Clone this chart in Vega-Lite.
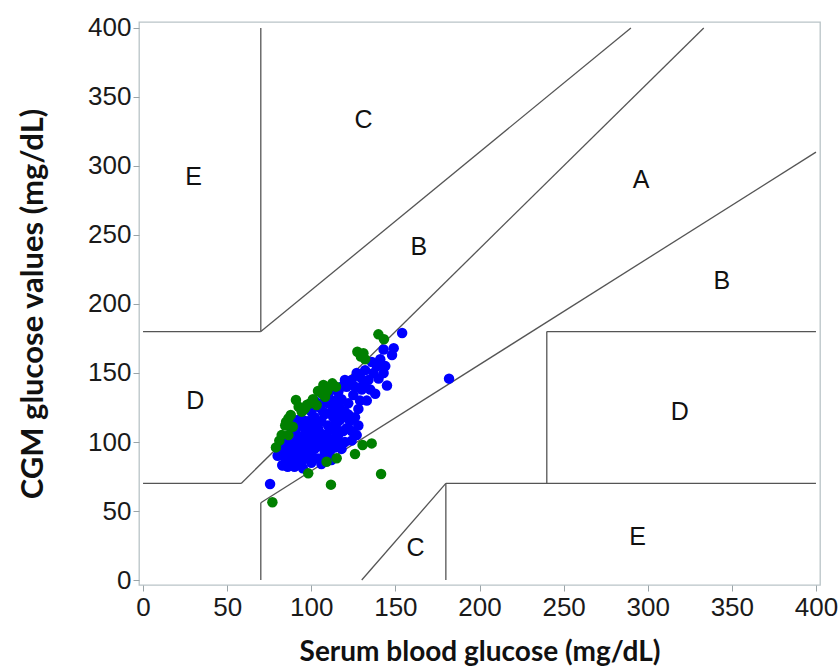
{
  "$schema": "https://vega.github.io/schema/vega-lite/v6.json",
  "width": 681,
  "height": 563,
  "autosize": "none",
  "padding": {"left": 139, "top": 22, "right": 19, "bottom": 81},
  "background": "white",
  "config": {
    "view": {"stroke": "#b9c3c7", "strokeWidth": 1.3},
    "axis": {
      "grid": false,
      "domain": false,
      "tickColor": "#9aa4a8",
      "tickSize": 6,
      "labelFont": "Liberation Sans",
      "labelFontSize": 26,
      "labelColor": "#1a1a1a",
      "titleFont": "Lato",
      "titleFontWeight": "bold",
      "titleColor": "#111111"
    }
  },
  "datasets": {
    "segs": [
      {"x": 0, "y": 70, "x2": 58.33, "y2": 70},
      {"x": 58.33, "y": 70, "x2": 333.3, "y2": 400},
      {"x": 70, "y": 56, "x2": 400, "y2": 310},
      {"x": 70, "y": 0, "x2": 70, "y2": 56},
      {"x": 70, "y": 180, "x2": 70, "y2": 400},
      {"x": 0, "y": 180, "x2": 70, "y2": 180},
      {"x": 70, "y": 180, "x2": 290, "y2": 400},
      {"x": 130, "y": 0, "x2": 180, "y2": 70},
      {"x": 180, "y": 0, "x2": 180, "y2": 70},
      {"x": 180, "y": 70, "x2": 400, "y2": 70},
      {"x": 240, "y": 70, "x2": 240, "y2": 180},
      {"x": 240, "y": 180, "x2": 400, "y2": 180}
    ],
    "labels": [
      {"x": 30, "y": 292, "t": "E"},
      {"x": 131, "y": 333, "t": "C"},
      {"x": 164, "y": 241, "t": "B"},
      {"x": 296, "y": 290, "t": "A"},
      {"x": 344, "y": 217, "t": "B"},
      {"x": 31, "y": 130, "t": "D"},
      {"x": 319, "y": 122, "t": "D"},
      {"x": 162, "y": 23, "t": "C"},
      {"x": 294, "y": 31, "t": "E"}
    ],
    "pts": [
      {"x": 154, "y": 179, "g": "blue"}, {"x": 143, "y": 167, "g": "blue"}, {"x": 149, "y": 168, "g": "blue"}, {"x": 148, "y": 163, "g": "blue"},
      {"x": 136, "y": 158, "g": "blue"}, {"x": 143, "y": 150, "g": "blue"}, {"x": 145, "y": 141, "g": "blue"}, {"x": 138, "y": 135, "g": "blue"},
      {"x": 132, "y": 152, "g": "blue"}, {"x": 129, "y": 147, "g": "blue"}, {"x": 134, "y": 145, "g": "blue"}, {"x": 126, "y": 140, "g": "blue"},
      {"x": 130, "y": 138, "g": "blue"}, {"x": 140, "y": 146, "g": "blue"}, {"x": 137, "y": 150, "g": "blue"}, {"x": 125, "y": 134, "g": "blue"},
      {"x": 133, "y": 130, "g": "blue"}, {"x": 128, "y": 124, "g": "blue"}, {"x": 128, "y": 112, "g": "blue"}, {"x": 124, "y": 101, "g": "blue"},
      {"x": 122, "y": 128, "g": "blue"}, {"x": 120, "y": 122, "g": "blue"}, {"x": 118, "y": 131, "g": "blue"}, {"x": 121, "y": 140, "g": "blue"},
      {"x": 116, "y": 136, "g": "blue"}, {"x": 119, "y": 118, "g": "blue"}, {"x": 123, "y": 115, "g": "blue"}, {"x": 117, "y": 125, "g": "blue"},
      {"x": 114, "y": 130, "g": "blue"}, {"x": 112, "y": 122, "g": "blue"}, {"x": 115, "y": 113, "g": "blue"}, {"x": 110, "y": 128, "g": "blue"},
      {"x": 113, "y": 118, "g": "blue"}, {"x": 111, "y": 110, "g": "blue"}, {"x": 108, "y": 120, "g": "blue"}, {"x": 106, "y": 115, "g": "blue"},
      {"x": 109, "y": 105, "g": "blue"}, {"x": 105, "y": 125, "g": "blue"}, {"x": 104, "y": 110, "g": "blue"}, {"x": 102, "y": 118, "g": "blue"},
      {"x": 100, "y": 122, "g": "blue"}, {"x": 103, "y": 103, "g": "blue"}, {"x": 101, "y": 112, "g": "blue"}, {"x": 99, "y": 108, "g": "blue"},
      {"x": 98, "y": 115, "g": "blue"}, {"x": 97, "y": 100, "g": "blue"}, {"x": 96, "y": 110, "g": "blue"}, {"x": 95, "y": 104, "g": "blue"},
      {"x": 94, "y": 96, "g": "blue"}, {"x": 93, "y": 112, "g": "blue"}, {"x": 92, "y": 100, "g": "blue"}, {"x": 91, "y": 106, "g": "blue"},
      {"x": 90, "y": 95, "g": "blue"}, {"x": 89, "y": 102, "g": "blue"}, {"x": 88, "y": 90, "g": "blue"}, {"x": 87, "y": 98, "g": "blue"},
      {"x": 86, "y": 93, "g": "blue"}, {"x": 85, "y": 88, "g": "blue"}, {"x": 84, "y": 95, "g": "blue"}, {"x": 83, "y": 83, "g": "blue"},
      {"x": 82, "y": 92, "g": "blue"}, {"x": 80, "y": 90, "g": "blue"}, {"x": 88, "y": 85, "g": "blue"}, {"x": 91, "y": 88, "g": "blue"},
      {"x": 94, "y": 85, "g": "blue"}, {"x": 97, "y": 90, "g": "blue"}, {"x": 100, "y": 92, "g": "blue"}, {"x": 102, "y": 95, "g": "blue"},
      {"x": 105, "y": 97, "g": "blue"}, {"x": 107, "y": 100, "g": "blue"}, {"x": 110, "y": 98, "g": "blue"}, {"x": 113, "y": 102, "g": "blue"},
      {"x": 116, "y": 105, "g": "blue"}, {"x": 119, "y": 108, "g": "blue"}, {"x": 121, "y": 110, "g": "blue"}, {"x": 96, "y": 88, "g": "blue"},
      {"x": 99, "y": 97, "g": "blue"}, {"x": 104, "y": 88, "g": "blue"}, {"x": 108, "y": 92, "g": "blue"}, {"x": 111, "y": 93, "g": "blue"},
      {"x": 114, "y": 96, "g": "blue"}, {"x": 117, "y": 100, "g": "blue"}, {"x": 93, "y": 92, "g": "blue"}, {"x": 90, "y": 82, "g": "blue"},
      {"x": 86, "y": 82, "g": "blue"}, {"x": 95, "y": 81, "g": "blue"}, {"x": 100, "y": 85, "g": "blue"}, {"x": 106, "y": 84, "g": "blue"},
      {"x": 112, "y": 87, "g": "blue"}, {"x": 118, "y": 95, "g": "blue"}, {"x": 122, "y": 120, "g": "blue"}, {"x": 126, "y": 118, "g": "blue"},
      {"x": 129, "y": 130, "g": "blue"}, {"x": 131, "y": 142, "g": "blue"}, {"x": 124, "y": 145, "g": "blue"}, {"x": 127, "y": 150, "g": "blue"},
      {"x": 120, "y": 145, "g": "blue"}, {"x": 135, "y": 138, "g": "blue"}, {"x": 75.5, "y": 69.6, "g": "blue"}, {"x": 82.8, "y": 83.3, "g": "blue"},
      {"x": 102, "y": 130, "g": "blue"}, {"x": 106, "y": 128, "g": "blue"}, {"x": 98, "y": 125, "g": "blue"}, {"x": 95, "y": 116, "g": "blue"},
      {"x": 92, "y": 116, "g": "blue"}, {"x": 89, "y": 110, "g": "blue"}, {"x": 87, "y": 105, "g": "blue"}, {"x": 110, "y": 134, "g": "blue"},
      {"x": 114, "y": 138, "g": "blue"}, {"x": 118, "y": 140, "g": "blue"}, {"x": 110, "y": 112, "g": "blue"}, {"x": 106, "y": 106, "g": "blue"},
      {"x": 103, "y": 100, "g": "blue"}, {"x": 100, "y": 100, "g": "blue"}, {"x": 97, "y": 104, "g": "blue"}, {"x": 94, "y": 100, "g": "blue"},
      {"x": 91, "y": 96, "g": "blue"}, {"x": 114, "y": 108, "g": "blue"}, {"x": 117, "y": 116, "g": "blue"}, {"x": 120, "y": 100, "g": "blue"},
      {"x": 124, "y": 108, "g": "blue"}, {"x": 127, "y": 105, "g": "blue"}, {"x": 84, "y": 100, "g": "blue"}, {"x": 81, "y": 97, "g": "blue"},
      {"x": 88, "y": 114, "g": "blue"}, {"x": 113, "y": 125, "g": "blue"}, {"x": 116, "y": 120, "g": "blue"}, {"x": 104, "y": 115, "g": "blue"},
      {"x": 107, "y": 122, "g": "blue"}, {"x": 101, "y": 105, "g": "blue"}, {"x": 98, "y": 95, "g": "blue"}, {"x": 89, "y": 92, "g": "blue"},
      {"x": 139, "y": 155, "g": "blue"}, {"x": 141, "y": 160, "g": "blue"}, {"x": 144, "y": 155, "g": "blue"}, {"x": 181.9, "y": 145.9, "g": "blue"},
      {"x": 139.9, "y": 178, "g": "green"}, {"x": 143.2, "y": 174.4, "g": "green"}, {"x": 127.4, "y": 165.4, "g": "green"}, {"x": 131, "y": 164.3, "g": "green"},
      {"x": 132, "y": 159.9, "g": "green"}, {"x": 107.2, "y": 141.3, "g": "green"}, {"x": 111.1, "y": 140.1, "g": "green"}, {"x": 114.7, "y": 140.1, "g": "green"},
      {"x": 106.2, "y": 135.3, "g": "green"}, {"x": 108.2, "y": 132.8, "g": "green"}, {"x": 90.9, "y": 130.4, "g": "green"}, {"x": 99.3, "y": 128, "g": "green"},
      {"x": 103.2, "y": 126.8, "g": "green"}, {"x": 96.3, "y": 124.4, "g": "green"}, {"x": 94.3, "y": 122, "g": "green"}, {"x": 87.8, "y": 119.6, "g": "green"},
      {"x": 86.4, "y": 117.1, "g": "green"}, {"x": 89, "y": 111.1, "g": "green"}, {"x": 82.4, "y": 105, "g": "green"}, {"x": 86.4, "y": 105, "g": "green"},
      {"x": 79, "y": 96.1, "g": "green"}, {"x": 130.5, "y": 97.8, "g": "green"}, {"x": 135.9, "y": 99, "g": "green"}, {"x": 126, "y": 91.3, "g": "green"},
      {"x": 109.1, "y": 85.7, "g": "green"}, {"x": 115.1, "y": 88.2, "g": "green"}, {"x": 98.2, "y": 77.3, "g": "green"}, {"x": 141.5, "y": 76.8, "g": "green"},
      {"x": 111.7, "y": 69.1, "g": "green"}, {"x": 76.9, "y": 56.3, "g": "green"}, {"x": 95.3, "y": 123.2, "g": "green"}, {"x": 84.5, "y": 112, "g": "green"},
      {"x": 101, "y": 131, "g": "green"}, {"x": 104, "y": 137, "g": "green"}, {"x": 109.5, "y": 137, "g": "green"}, {"x": 112.5, "y": 142.5, "g": "green"},
      {"x": 97.5, "y": 127, "g": "green"}, {"x": 92.5, "y": 125.5, "g": "green"}, {"x": 85, "y": 114.5, "g": "green"}, {"x": 81, "y": 101, "g": "green"},
      {"x": 129.5, "y": 162, "g": "green"}
    ]
  },
  "layer": [
    {
      "data": {"name": "segs"},
      "mark": {"type": "rule", "color": "#555555", "strokeWidth": 1.3},
      "encoding": {
        "x": {"field": "x", "type": "quantitative", "scale": {"domain": [-2.4, 402.4], "nice": false, "zero": false},
          "axis": {"values": [0, 50, 100, 150, 200, 250, 300, 350, 400], "title": "Serum blood glucose (mg/dL)", "titleFontSize": 28, "titlePadding": 18, "labelPadding": 3}},
        "y": {"field": "y", "type": "quantitative", "scale": {"domain": [-3.6, 404.3], "nice": false, "zero": false},
          "axis": {"values": [0, 50, 100, 150, 200, 250, 300, 350, 400], "title": "CGM glucose values (mg/dL)", "titleFontSize": 31, "titlePadding": 38, "labelPadding": 2}},
        "x2": {"field": "x2"},
        "y2": {"field": "y2"}
      }
    },
    {
      "data": {"name": "labels"},
      "mark": {"type": "text", "font": "Liberation Sans", "fontSize": 25, "color": "#111111", "align": "center", "baseline": "middle"},
      "encoding": {
        "x": {"field": "x", "type": "quantitative"},
        "y": {"field": "y", "type": "quantitative"},
        "text": {"field": "t"}
      }
    },
    {
      "data": {"name": "pts"},
      "mark": {"type": "point", "filled": true, "shape": "circle", "size": 110, "opacity": 1},
      "encoding": {
        "x": {"field": "x", "type": "quantitative"},
        "y": {"field": "y", "type": "quantitative"},
        "color": {"field": "g", "type": "nominal", "scale": {"domain": ["blue", "green"], "range": ["#0000ff", "#008000"]}, "legend": null}
      }
    }
  ]
}
